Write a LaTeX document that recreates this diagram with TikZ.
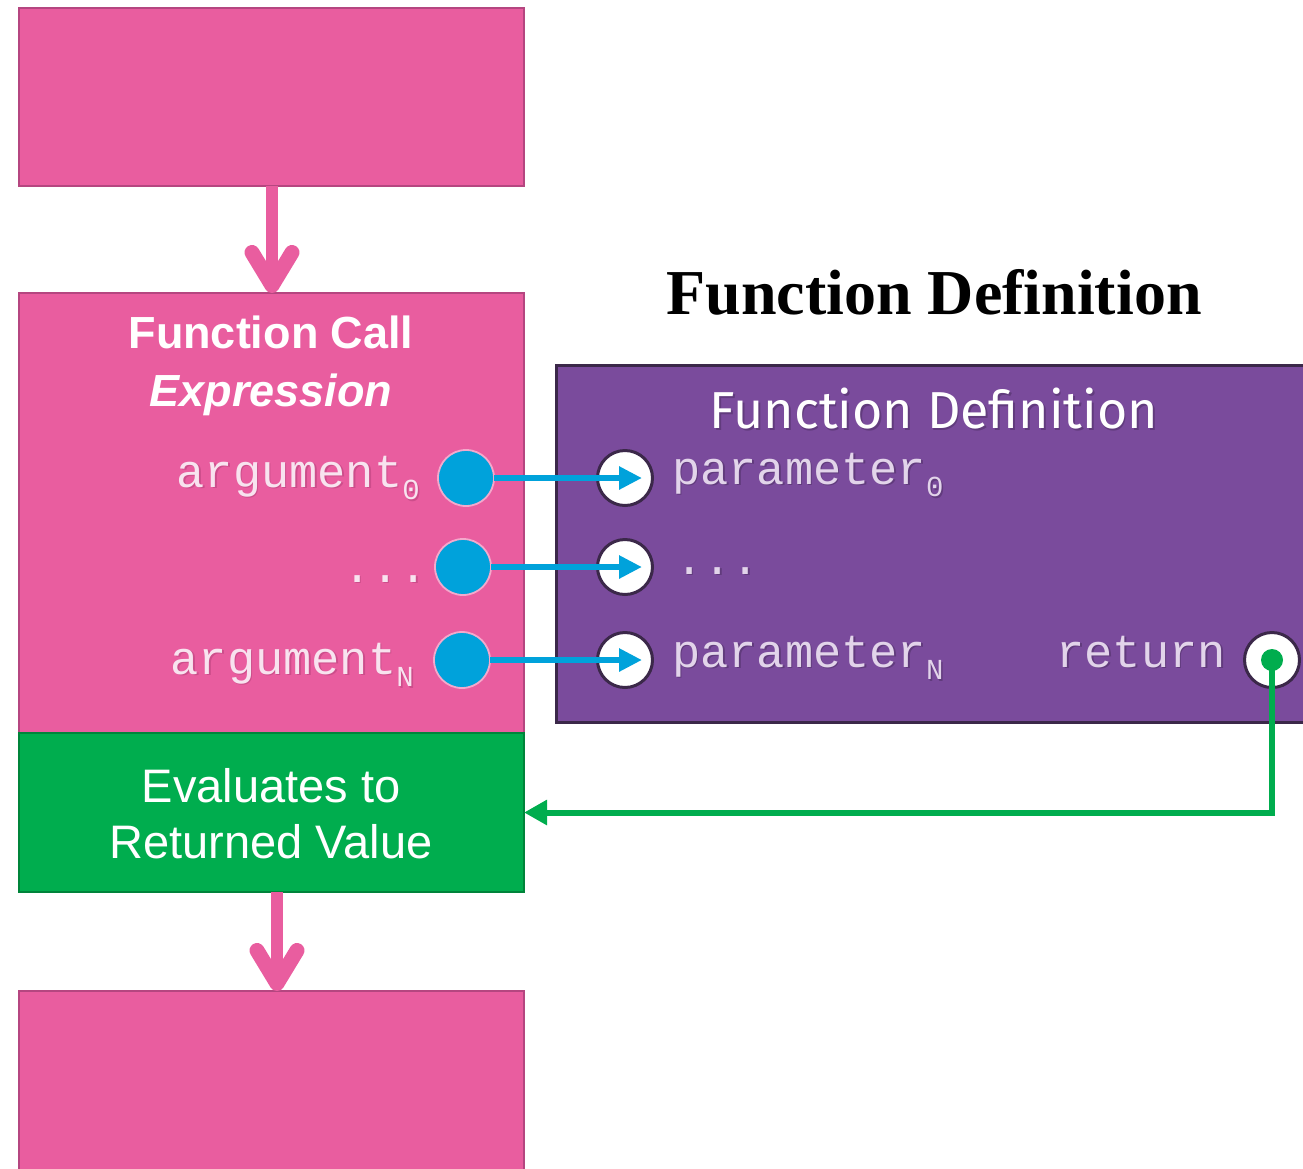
\documentclass[tikz,border=0pt]{standalone}
\usepackage{fontspec}
\setmainfont{Liberation Serif}
\newfontfamily\labelsans{Liberation Sans}
\newfontfamily\defsans{Fira Sans}
\newfontfamily\codefont{Liberation Mono}
\usetikzlibrary{arrows.meta}

\definecolor{callpink}{HTML}{E95D9F}
\definecolor{callpinkdark}{HTML}{B54680}
\definecolor{callshade}{HTML}{8E2A5E}
\definecolor{evalgreen}{HTML}{00AD4E}
\definecolor{evalgreendark}{HTML}{00843A}
\definecolor{defpurple}{HTML}{7A4B9C}
\definecolor{defpurpledark}{HTML}{3B2849}
\definecolor{defshade}{HTML}{2A1838}
\definecolor{argblue}{HTML}{00A2DB}
\definecolor{argring}{HTML}{F4A9CC}
\definecolor{argtext}{HTML}{F8E3EF}
\definecolor{paramtext}{HTML}{E2D4EA}

\newcommand\codesize{\fontsize{47}{50}\selectfont}
\newcommand\codesub[1]{\raisebox{-12.5pt}{\fontsize{29}{29}\selectfont #1}}

% a label with a soft dark drop shadow beneath it:
% #1 name, #2 style, #3 anchor, #4 position (x,y), #5 shadow colour, #6 text
\newcommand\shadedlabel[6]{%
  \node[#2, anchor=#3, text=#5, opacity=0.3] (#1-shade) at ([shift={(1.6pt,-1.8pt)}]#4) {#6};
  \node[#2, anchor=#3] (#1) at (#4) {#6};}

\begin{document}
\begin{tikzpicture}[x=1pt,y=-1pt,
  blockbox/.style={rectangle, inner sep=0, outer sep=0, minimum width=505pt, line width=2pt},
  pinkbox/.style={blockbox, fill=callpink, draw=callpinkdark},
  greenbox/.style={blockbox, fill=evalgreen, draw=evalgreendark},
  defbox/.style={rectangle, inner sep=0, outer sep=0, fill=defpurple, draw=defpurpledark, line width=3pt},
  argdot/.style={circle, inner sep=0, outer sep=0, minimum size=56pt, fill=argblue, draw=argring, line width=1.8pt},
  paramdot/.style={circle, inner sep=0, outer sep=0, minimum size=55pt, fill=white, draw=defpurpledark, line width=3pt},
  flowarrow/.style={draw=callpink, line width=12pt,
    -{Straight Barb[round, length=33pt, width=40pt, line width=3pt 1]}},
  passarrow/.style={draw=argblue, line width=6pt, -{Triangle[length=23pt, width=22pt]}},
  returnline/.style={draw=evalgreen, line width=6pt, -{Triangle[length=23pt, width=24pt]}},
  argtextstyle/.style={text=argtext, font=\codefont\codesize, inner sep=0},
  paramtextstyle/.style={text=paramtext, font=\codefont\codesize, inner sep=0},
  boxtitle/.style={text=white, align=center, inner sep=0},
  defheading/.style={boxtitle, font=\defsans\fontsize{52}{56}\selectfont}
]
\useasboundingbox (0,0) rectangle (1303,1168);

% statement blocks of the calling code
\node[pinkbox, minimum height=178pt] (top) at (271.5,97) {};
\node[pinkbox, minimum height=440pt] (call) at (271.5,513) {};
\node[greenbox, minimum height=159pt] (eval) at (271.5,812.5) {};
\node[pinkbox, minimum height=189pt] (bottom) at (271.5,1085.5) {};

% the function definition block
\node[defbox, minimum width=764pt, minimum height=357pt] (def) at (938,543.5) {};

% headings
\node[font=\bfseries\fontsize{64}{70}\selectfont, inner sep=0] (deftitle) at (934,292) {Function Definition};
\node[boxtitle, font=\labelsans\bfseries\fontsize{45}{58}\selectfont] (calltitle) at (271,366)
  {Function Call\\\itshape Expression};
\shadedlabel{definner}{defheading}{center}{934,409}{defshade}{Function Definition}
\node[boxtitle, font=\labelsans\fontsize{47}{56}\selectfont] (evaltext) at (271,814)
  {Evaluates to\\Returned Value};

% argument and parameter ports
\node[argdot] (a0) at (466,478) {};
\node[argdot] (a1) at (463,567) {};
\node[argdot] (aN) at (462,660) {};
\node[paramdot] (p0) at (625,478) {};
\node[paramdot] (p1) at (625,567) {};
\node[paramdot] (pN) at (625,660) {};
\node[paramdot] (ret) at (1272,660) {};
\fill[evalgreen] (ret.center) circle (11pt);

% port labels
\shadedlabel{la0}{argtextstyle}{base east}{420,487}{callshade}{argument\codesub{0}}
\shadedlabel{la1}{argtextstyle}{base east}{428,582}{callshade}{...}
\shadedlabel{laN}{argtextstyle}{base east}{414,674}{callshade}{argument\codesub{N}}
\shadedlabel{lp0}{paramtextstyle}{base west}{672,484}{defshade}{parameter\codesub{0}}
\shadedlabel{lp1}{paramtextstyle}{base west}{675,574}{defshade}{...}
\shadedlabel{lpN}{paramtextstyle}{base west}{672,667}{defshade}{parameter\codesub{N}}
\shadedlabel{lret}{paramtextstyle}{base east}{1226,667}{defshade}{return}

% control flow
\draw[flowarrow] ([xshift=0.5pt]top.south) -- ([xshift=0.5pt]call.north);
\draw[flowarrow] ([xshift=5.5pt]eval.south) -- ([xshift=5.5pt]bottom.north);

% argument passing
\draw[passarrow] (a0.east) -- ([xshift=17pt]p0.center);
\draw[passarrow] (a1.east) -- ([xshift=17pt]p1.center);
\draw[passarrow] (aN.east) -- ([xshift=17pt]pN.center);

% returned value
\draw[returnline] (ret.center) |- (eval.east);
\end{tikzpicture}
\end{document}
